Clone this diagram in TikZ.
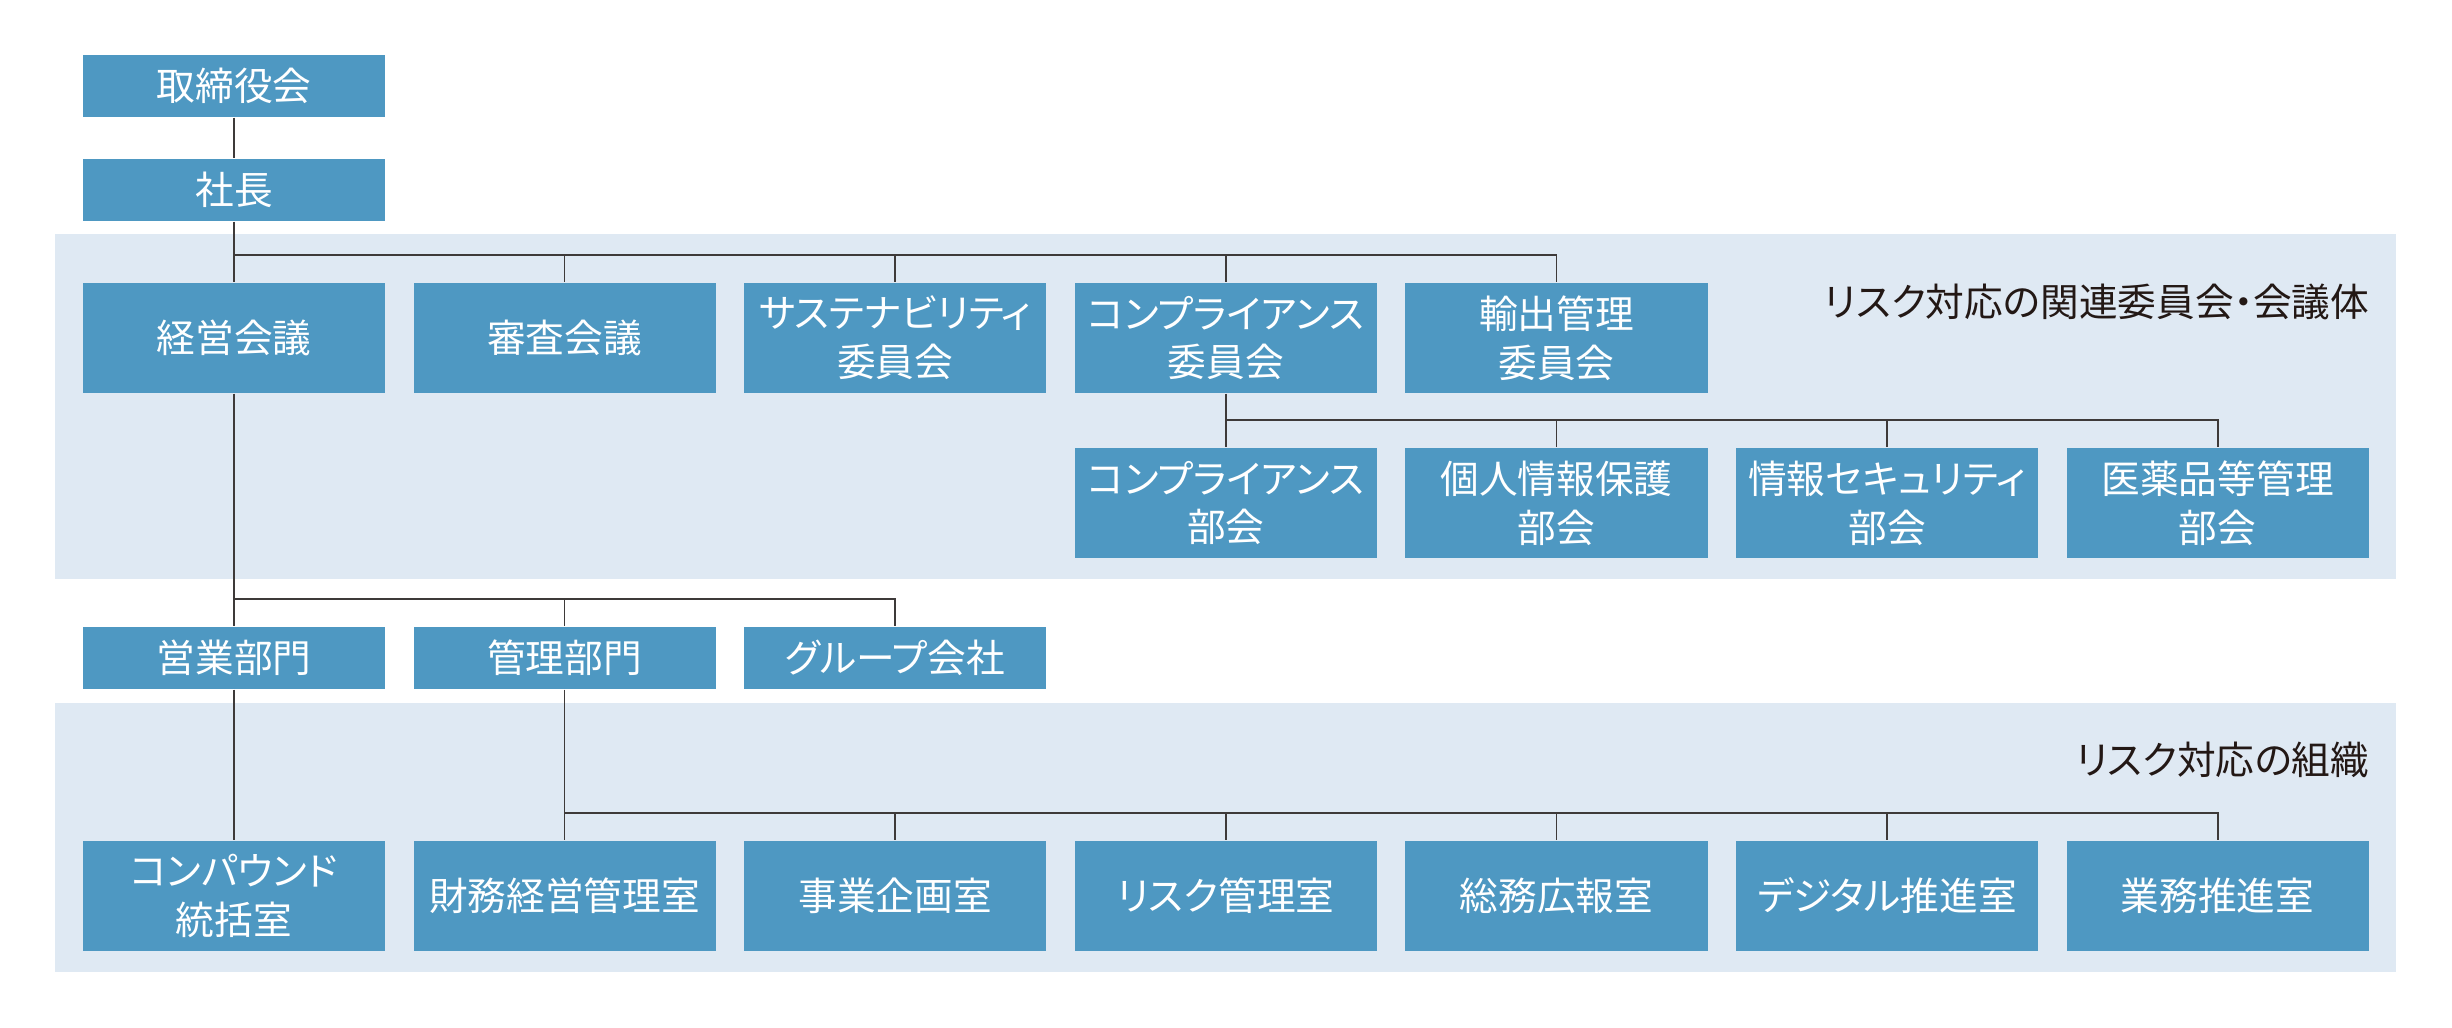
\documentclass[tikz,border=0pt]{standalone}
\usepackage{fontspec}
\setmainfont{Noto Sans CJK JP}[RawFeature=+palt]
\definecolor{boxblue}{HTML}{4E98C2}
\definecolor{bandblue}{HTML}{DFE9F3}
\definecolor{linegray}{HTML}{3E3A39}
\definecolor{labelblack}{HTML}{231815}
\begin{document}
\begin{tikzpicture}[x=0.01cm,y=-0.01cm,
  unit/.style={fill=boxblue,text=white,inner sep=0pt,minimum width=3.02cm,align=center,
    font=\fontsize{11}{13.9}\selectfont},
  small/.style={unit,minimum height=0.62cm},
  tall/.style={unit,minimum height=1.10cm},
  bandlabel/.style={anchor=east,inner sep=0pt,text=labelblack,font=\fontsize{11}{13.9}\selectfont},
  link/.style={draw=linegray,line width=0.5pt}]
\useasboundingbox (0,0) rectangle (2452,1027);
\fill[bandblue] (55,234) rectangle (2396,579);
\fill[bandblue] (55,703) rectangle (2396,972);
\node[bandlabel] (lblcommittee) at (2370,302) {リスク対応の関連委員会・会議体};
\node[bandlabel] (lblorg) at (2370,760) {リスク対応の組織};
\coordinate (bus1) at (0,255);
\coordinate (bus2) at (0,420);
\coordinate (bus3) at (0,599);
\coordinate (bus4) at (0,813);
\node[small] (torishimari) at (234,86) {取締役会};
\node[small] (shacho) at (234,190) {社長};
\node[tall] (keiei) at (234,338) {経営会議};
\node[tall] (shinsa) at (564.6,338) {審査会議};
\node[tall] (sustain) at (895.2,338) {サステナビリティ\\委員会};
\node[tall] (compliance) at (1225.8,338) {コンプライアンス\\委員会};
\node[tall] (yushutsu) at (1556.4,338) {輸出管理\\委員会};
\node[tall] (compbu) at (1225.8,503) {コンプライアンス\\部会};
\node[tall] (kojin) at (1556.4,503) {個人情報保護\\部会};
\node[tall] (security) at (1887,503) {情報セキュリティ\\部会};
\node[tall] (iyaku) at (2217.6,503) {医薬品等管理\\部会};
\node[small] (eigyo) at (234,658) {営業部門};
\node[small] (kanri) at (564.6,658) {管理部門};
\node[small] (group) at (895.2,658) {グループ会社};
\node[tall] (compound) at (234,896) {コンパウンド\\統括室};
\node[tall] (zaimu) at (564.6,896) {財務経営管理室};
\node[tall] (jigyo) at (895.2,896) {事業企画室};
\node[tall] (risk) at (1225.8,896) {リスク管理室};
\node[tall] (somu) at (1556.4,896) {総務広報室};
\node[tall] (digital) at (1887,896) {デジタル推進室};
\node[tall] (gyomu) at (2217.6,896) {業務推進室};
% top
\draw[link] (torishimari) -- (shacho);
\draw[link] (shacho) -- (keiei);
\draw[link] (keiei.north |- bus1) -| (yushutsu.north);
\foreach \n in {shinsa,sustain,compliance}
  \draw[link] (bus1 -| \n.north) -- (\n.north);
% committees
\draw[link] (compliance) -- (compbu);
\draw[link] (compbu.north |- bus2) -| (iyaku.north);
\foreach \n in {kojin,security}
  \draw[link] (bus2 -| \n.north) -- (\n.north);
% divisions
\draw[link] (keiei) -- (eigyo);
\draw[link] (eigyo.north |- bus3) -| (group.north);
\draw[link] (bus3 -| kanri.north) -- (kanri.north);
% offices
\draw[link] (eigyo) -- (compound);
\draw[link] (kanri) -- (zaimu);
\draw[link] (zaimu.north |- bus4) -| (gyomu.north);
\foreach \n in {jigyo,risk,somu,digital}
  \draw[link] (bus4 -| \n.north) -- (\n.north);
\end{tikzpicture}
\end{document}
